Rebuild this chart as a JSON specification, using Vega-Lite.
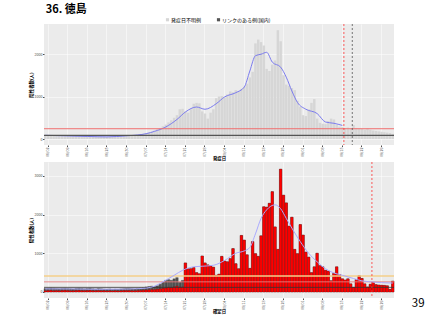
{
"$schema":"https://vega.github.io/schema/vega-lite/v6.json",
"background":"white",
"padding":{"left":28,"top":4,"right":0,"bottom":1},
"spacing":0,
"config":{"font":"Noto Sans CJK JP","view":{"fill":"#EBEBEB","stroke":null},
"axis":{"labelFontSize":3.6,"labelColor":"#4D4D4D","titleFontSize":4.4,"titleFontWeight":"bold","titleColor":"#000000","tickColor":"#4D4D4D","tickSize":1.5,"domain":false,"grid":true,"gridColor":"#FFFFFF","gridWidth":0.5,"labelPadding":0.5,"titlePadding":0.3}},
"title":{"text":"36. 徳島","anchor":"start","fontSize":11,"fontWeight":"bold","color":"#000000","offset":2,"dx":17},
"datasets":{"days":[
{"d":"06/01","onset":90,"total":90,"red":30,"t1":87,"t2":80},
{"d":"06/02","onset":85,"total":95,"red":35},
{"d":"06/03","onset":95,"total":100,"red":40},
{"d":"06/04","onset":80,"total":95,"red":30},
{"d":"06/05","onset":70,"total":90,"red":35},
{"d":"06/06","onset":75,"total":85,"red":30},
{"d":"06/07","onset":90,"total":90,"red":35},
{"d":"06/08","onset":85,"total":95,"red":40,"t1":75},
{"d":"06/09","onset":80,"total":90,"red":35},
{"d":"06/10","onset":75,"total":85,"red":30,"t2":78},
{"d":"06/11","onset":70,"total":80,"red":30},
{"d":"06/12","onset":85,"total":90,"red":35},
{"d":"06/13","onset":80,"total":95,"red":40},
{"d":"06/14","onset":75,"total":90,"red":35},
{"d":"06/15","onset":70,"total":85,"red":30},
{"d":"06/16","onset":80,"total":90,"red":35,"t1":60},
{"d":"06/17","onset":75,"total":95,"red":40},
{"d":"06/18","onset":70,"total":85,"red":30},
{"d":"06/19","onset":65,"total":80,"red":30},
{"d":"06/20","onset":60,"total":90,"red":35,"t2":70},
{"d":"06/21","onset":70,"total":85,"red":30},
{"d":"06/22","onset":65,"total":80,"red":30},
{"d":"06/23","onset":60,"total":75,"red":25,"t1":50},
{"d":"06/24","onset":55,"total":80,"red":30},
{"d":"06/25","onset":60,"total":70,"red":25},
{"d":"06/26","onset":65,"total":75,"red":30},
{"d":"06/27","onset":70,"total":70,"red":25},
{"d":"06/28","onset":75,"total":80,"red":30},
{"d":"06/29","onset":80,"total":85,"red":35},
{"d":"06/30","onset":85,"total":90,"red":35,"t1":75,"t2":75},
{"d":"07/01","onset":85,"total":90,"red":35},
{"d":"07/02","onset":90,"total":85,"red":30},
{"d":"07/03","onset":95,"total":80,"red":30},
{"d":"07/04","onset":100,"total":90,"red":35,"t1":95},
{"d":"07/05","onset":105,"total":100,"red":40},
{"d":"07/06","onset":115,"total":110,"red":45},
{"d":"07/07","onset":130,"total":130,"red":50,"t1":125,"t2":100},
{"d":"07/08","onset":150,"total":140,"red":55},
{"d":"07/09","onset":170,"total":150,"red":60},
{"d":"07/10","onset":200,"total":140,"red":60,"t1":180,"t2":150},
{"d":"07/11","onset":230,"total":160,"red":70},
{"d":"07/12","onset":260,"total":200,"red":80},
{"d":"07/13","onset":300,"total":250,"red":90,"t2":263},
{"d":"07/14","onset":340,"total":300,"red":100,"t1":282},
{"d":"07/15","onset":390,"total":320,"red":120},
{"d":"07/16","onset":440,"total":300,"red":110},
{"d":"07/17","onset":500,"total":340,"red":130,"t2":432},
{"d":"07/18","onset":560,"total":370,"red":150,"t1":460},
{"d":"07/19","onset":700,"total":250,"red":120},
{"d":"07/20","onset":710,"total":300,"red":130,"t2":560},
{"d":"07/21","onset":650,"total":750,"red":750,"t1":635},
{"d":"07/22","onset":620,"total":600,"red":600},
{"d":"07/23","onset":700,"total":600,"red":600},
{"d":"07/24","onset":830,"total":630,"red":630,"t2":650},
{"d":"07/25","onset":850,"total":500,"red":500,"t1":753},
{"d":"07/26","onset":840,"total":470,"red":470},
{"d":"07/27","onset":650,"total":930,"red":930,"t2":665},
{"d":"07/28","onset":600,"total":750,"red":750,"t1":700},
{"d":"07/29","onset":480,"total":700,"red":700},
{"d":"07/30","onset":620,"total":680,"red":680},
{"d":"07/31","onset":700,"total":640,"red":640,"t2":690},
{"d":"08/01","onset":960,"total":430,"red":430,"t1":830},
{"d":"08/02","onset":1000,"total":460,"red":460},
{"d":"08/03","onset":1010,"total":920,"red":920},
{"d":"08/04","onset":980,"total":800,"red":800,"t1":990,"t2":814},
{"d":"08/05","onset":1050,"total":780,"red":780},
{"d":"08/06","onset":1120,"total":860,"red":860},
{"d":"08/07","onset":1100,"total":1120,"red":1120},
{"d":"08/08","onset":1150,"total":730,"red":730,"t1":1090,"t2":1000},
{"d":"08/09","onset":1120,"total":600,"red":600},
{"d":"08/10","onset":1180,"total":1460,"red":1460},
{"d":"08/11","onset":1230,"total":1340,"red":1340,"t1":1220,"t2":1060},
{"d":"08/12","onset":1300,"total":960,"red":960},
{"d":"08/13","onset":1450,"total":610,"red":610,"t1":1600,"t2":1150},
{"d":"08/14","onset":1580,"total":1300,"red":1300},
{"d":"08/15","onset":2250,"total":990,"red":990,"t1":1960,"t2":1500},
{"d":"08/16","onset":2340,"total":920,"red":920},
{"d":"08/17","onset":2280,"total":1450,"red":1450,"t1":1995,"t2":1900},
{"d":"08/18","onset":2200,"total":2200,"red":2200},
{"d":"08/19","onset":1650,"total":2190,"red":2190,"t1":2040,"t2":2120},
{"d":"08/20","onset":1600,"total":2290,"red":2290},
{"d":"08/21","onset":1750,"total":2590,"red":2590,"t1":1810},
{"d":"08/22","onset":1850,"total":1680,"red":1680,"t2":2250},
{"d":"08/23","onset":2560,"total":1100,"red":1100},
{"d":"08/24","onset":2300,"total":3170,"red":3170,"t1":1690,"t2":2150},
{"d":"08/25","onset":1500,"total":2500,"red":2500},
{"d":"08/26","onset":1280,"total":2300,"red":2300,"t1":1455,"t2":1900},
{"d":"08/27","onset":1250,"total":1700,"red":1700},
{"d":"08/28","onset":1200,"total":1930,"red":1930,"t1":1130,"t2":1650},
{"d":"08/29","onset":1150,"total":1100,"red":1100},
{"d":"08/30","onset":900,"total":990,"red":990,"t1":860},
{"d":"08/31","onset":760,"total":1740,"red":1740,"t2":1300},
{"d":"09/01","onset":560,"total":1470,"red":1470},
{"d":"09/02","onset":540,"total":1030,"red":1030,"t1":700},
{"d":"09/03","onset":700,"total":900,"red":900,"t2":1000},
{"d":"09/04","onset":850,"total":500,"red":500},
{"d":"09/05","onset":940,"total":650,"red":650},
{"d":"09/06","onset":480,"total":1000,"red":1000,"t1":600,"t2":780},
{"d":"09/07","onset":380,"total":680,"red":680},
{"d":"09/08","onset":360,"total":650,"red":650},
{"d":"09/09","onset":350,"total":560,"red":560,"t1":400,"t2":600},
{"d":"09/10","onset":420,"total":540,"red":540},
{"d":"09/11","onset":480,"total":290,"red":290},
{"d":"09/12","onset":460,"total":480,"red":480,"t1":370,"t2":491},
{"d":"09/13","onset":330,"total":650,"red":650},
{"d":"09/14","onset":290,"total":450,"red":450},
{"d":"09/15","onset":280,"total":340,"red":340,"t1":320,"t2":432},
{"d":"09/16","onset":260,"total":310,"red":310},
{"d":"09/17","onset":270,"total":340,"red":340},
{"d":"09/18","onset":250,"total":210,"red":210},
{"d":"09/19","onset":330,"total":120,"red":120,"t2":348},
{"d":"09/20","onset":260,"total":320,"red":320},
{"d":"09/21","onset":250,"total":420,"red":420},
{"d":"09/22","onset":240,"total":350,"red":350,"t2":288},
{"d":"09/23","onset":220,"total":210,"red":210},
{"d":"09/24","onset":250,"total":130,"red":130},
{"d":"09/25","onset":220,"total":200,"red":200,"t2":263},
{"d":"09/26","onset":200,"total":240,"red":240},
{"d":"09/27","onset":190,"total":190,"red":190},
{"d":"09/28","onset":180,"total":180,"red":180},
{"d":"09/29","onset":170,"total":175,"red":175,"t2":240},
{"d":"09/30","onset":160,"total":170,"red":170},
{"d":"10/01","onset":150,"total":160,"red":160},
{"d":"10/02","onset":140,"total":70,"red":70},
{"d":"10/03","onset":120,"total":280,"red":280,"t2":230}
]},
"vconcat":[
{"width":350,"height":121,
"layer":[
{"data":{"name":"days"},"mark":{"type":"bar"},
"encoding":{
"x":{"field":"d","type":"ordinal","scale":{"paddingInner":0.12,"paddingOuter":0},"axis":{"values":["06/02","06/09","06/16","06/23","06/30","07/07","07/14","07/21","07/28","08/04","08/11","08/18","08/25","09/01","09/08","09/15","09/22","09/29"],"labelAngle":-90,"title":"発症日"}},
"y":{"field":"onset","type":"quantitative","scale":{"domain":[-141,2706],"nice":false},"axis":{"values":[0,1000,2000],"format":"d","title":"陽性者数(人)"}},
"color":{"datum":"発症日不明例","scale":{"domain":["発症日不明例","リンクのある例(国内)"],"range":["#D6D6D6","#555555"]},
"legend":{"orient":"none","legendX":121,"legendY":-7,"direction":"horizontal","title":null,"labelFontSize":5,"labelColor":"#000000","symbolType":"square","symbolSize":10,"columnPadding":14,"labelOffset":1,"padding":0}}}},
{"data":{"name":"days"},"mark":{"type":"line","color":"#7B7BEE","strokeWidth":1,"interpolate":"monotone","invalid":"filter"},
"encoding":{"x":{"field":"d","type":"ordinal"},"y":{"field":"t1","type":"quantitative"}}},
{"data":{"values":[{}]},"mark":{"type":"rule","color":"#F07070","strokeWidth":1},"encoding":{"y":{"datum":242}}},
{"data":{"values":[{}]},"mark":{"type":"rule","color":"#555555","strokeWidth":1.2},"encoding":{"y":{"datum":87}}},
{"data":{"values":[{}]},"mark":{"type":"rule","color":"#FF3333","strokeWidth":0.8,"strokeDash":[2,2]},"encoding":{"x":{"datum":"09/16","type":"ordinal","bandPosition":0}}},
{"data":{"values":[{}]},"mark":{"type":"rule","color":"#555555","strokeWidth":0.8,"strokeDash":[2,2]},"encoding":{"x":{"datum":"09/19","type":"ordinal","bandPosition":0}}}
]},
{"width":350,"height":136,
"layer":[
{"data":{"name":"days"},"mark":{"type":"bar","fill":"#555555","stroke":"#222222","strokeWidth":0.3},
"encoding":{
"x":{"field":"d","type":"ordinal","scale":{"paddingInner":0.12,"paddingOuter":0},"axis":{"values":["06/02","06/09","06/16","06/23","06/30","07/07","07/14","07/21","07/28","08/04","08/11","08/18","08/25","09/01","09/08","09/15","09/22","09/29"],"labelAngle":-90,"title":"確定日"}},
"y":{"field":"total","type":"quantitative","scale":{"domain":[-155,3356],"nice":false},"axis":{"values":[0,1000,2000,3000],"format":"d","title":"陽性者数(人)"}}}},
{"data":{"name":"days"},"mark":{"type":"bar","fill":"#FF0000","stroke":"#8B0000","strokeWidth":0.3},
"encoding":{"x":{"field":"d","type":"ordinal"},"y":{"field":"red","type":"quantitative"}}},
{"data":{"values":[{}]},"mark":{"type":"rule","color":"#F5CF8A","strokeWidth":1.5},"encoding":{"y":{"datum":410}}},
{"data":{"values":[{}]},"mark":{"type":"rule","color":"#E88080","strokeWidth":0.9},"encoding":{"y":{"datum":262}}},
{"data":{"values":[{}]},"mark":{"type":"rule","color":"#333333","strokeWidth":0.8},"encoding":{"y":{"datum":120}}},
{"data":{"name":"days"},"mark":{"type":"line","color":"#AAAAFF","strokeWidth":1,"interpolate":"monotone","invalid":"filter"},
"encoding":{"x":{"field":"d","type":"ordinal"},"y":{"field":"t2","type":"quantitative"}}},
{"data":{"values":[{}]},"mark":{"type":"rule","color":"#FF3333","strokeWidth":0.8,"strokeDash":[2,2]},"encoding":{"x":{"datum":"09/26","type":"ordinal","bandPosition":0}}},
{"data":{"values":[{"p":"39"}]},"mark":{"type":"text","fontSize":11.5,"align":"left","baseline":"bottom","dx":19,"dy":11,"color":"#000000"},"encoding":{"x":{"datum":"10/03","type":"ordinal"},"y":{"datum":-155},"text":{"field":"p"}}}
]}
]
}
